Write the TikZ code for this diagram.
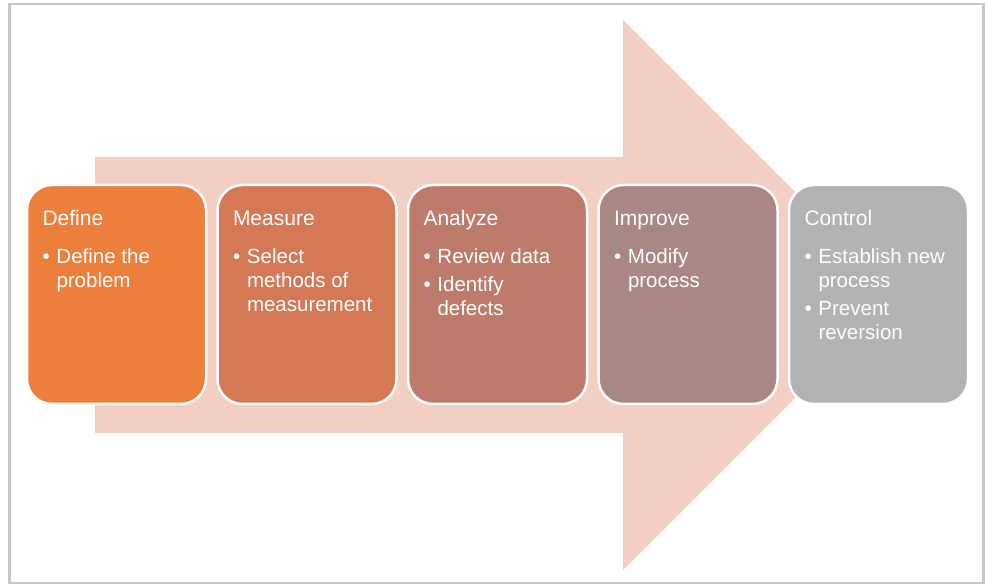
\documentclass[tikz,border=0pt]{standalone}
\usepackage{fontspec}
\setmainfont{Liberation Sans}
\usetikzlibrary{positioning}

\definecolor{defineorange}{HTML}{EB7F3B}
\definecolor{measureorange}{HTML}{D57855}
\definecolor{analyzerose}{HTML}{BE7B6C}
\definecolor{improvemauve}{HTML}{A98785}
\definecolor{controlgray}{HTML}{B1B2B5}
\definecolor{arrowpink}{HTML}{F2CEC3}
\definecolor{framegray}{HTML}{C8C8C8}

\newcommand{\bul}{\makebox[14pt][l]{\textbullet}}
\newcommand{\ind}{\hspace*{14pt}}
\newcommand{\phasetitle}[1]{{\fontsize{21}{24}\selectfont\strut #1}}

\begin{document}
\begin{tikzpicture}[
            x=1pt,y=1pt,
            every node/.style={inner sep=0pt,outer sep=0pt},
            phase box/.style={rectangle,rounded corners=25pt,draw=white,line width=2.5pt,
                minimum width=179pt,minimum height=219pt},
            phase text/.style={align=left,text=white,font=\fontsize{20.5}{24}\selectfont},
            node distance=11.5pt
        ]
        \useasboundingbox (0,0) rectangle (988,586);
        \draw[framegray,line width=2.5pt] (9.5,582) rectangle (983.5,3);
        % big arrow behind the phases
        \fill[arrowpink] (95,429) -- (623,429) -- (623,566) -- (898,291)
            -- (623,16) -- (623,153) -- (95,153) -- cycle;
        \node[phase box,fill=defineorange] (define box) at (116.5,291.5) {};
        \node[phase box,fill=measureorange,right=of define box] (measure box) {};
        \node[phase box,fill=analyzerose,right=of measure box] (analyze box) {};
        \node[phase box,fill=improvemauve,right=of analyze box] (improve box) {};
        \node[phase box,fill=controlgray,right=of improve box] (control box) {};
        % texts
        \node[phase text,below right=24.2pt and 15.5pt of define box.north west] (define text)
            {\phasetitle{Define}\\[13.5pt]\bul Define the\\\ind problem};
        \node[phase text,below right=24.2pt and 15.5pt of measure box.north west] (measure text)
            {\phasetitle{Measure}\\[13.5pt]\bul Select\\\ind methods of\\\ind measurement};
        \node[phase text,below right=24.2pt and 15.5pt of analyze box.north west] (analyze text)
            {\phasetitle{Analyze}\\[13.5pt]\bul Review data\\[4pt]\bul Identify\\\ind defects};
        \node[phase text,below right=24.2pt and 15.5pt of improve box.north west] (improve text)
            {\phasetitle{Improve}\\[13.5pt]\bul Modify\\\ind process};
        \node[phase text,below right=24.2pt and 15.5pt of control box.north west] (control text)
            {\phasetitle{Control}\\[13.5pt]\bul Establish new\\\ind process\\[4pt]\bul Prevent\\\ind reversion};
    \end{tikzpicture}
\end{document}
